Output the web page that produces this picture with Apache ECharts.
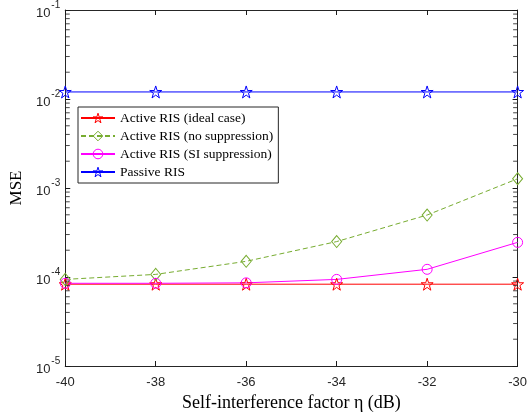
<!DOCTYPE html>
<html>
<head>
<meta charset="utf-8">
<script src="https://cdn.jsdelivr.net/npm/echarts@6/dist/echarts.min.js"></script>
<style>
html,body{margin:0;padding:0;background:#fff;}
#chart{width:530px;height:418px;}
</style>
</head>
<body>
<div id="chart"></div>
<script>
// ---- data ----
const etaDb = [-40, -38, -36, -34, -32, -30];
const idealCase = [8.3e-5, 8.3e-5, 8.3e-5, 8.3e-5, 8.3e-5, 8.3e-5];
const noSuppression = [9.4e-5, 1.07e-4, 1.5e-4, 2.5e-4, 4.97e-4, 1.27e-3];
const siSuppression = [8.5e-5, 8.5e-5, 8.6e-5, 9.4e-5, 1.22e-4, 2.45e-4];
const passiveRis = [0.012, 0.012, 0.012, 0.012, 0.012, 0.012];
const seriesNames = ['Active RIS (ideal case)', 'Active RIS (no suppression)', 'Active RIS (SI suppression)', 'Passive RIS'];
const seriesColors = ['#FF0000', '#77AC30', '#FF00FF', '#0000FF'];
const xTicks = [-40, -38, -36, -34, -32, -30];
const decadeExponents = [-5, -4, -3, -2];
const minorMultiples = [2, 3, 4, 5, 6, 7, 8, 9];

const minorTickValues = [];
decadeExponents.forEach(e => minorMultiples.forEach(m => minorTickValues.push(m * Math.pow(10, e))));

const STAR = 'path://M50,0 L61.2,34.5 L97.6,34.5 L68.2,55.9 L79.4,90.5 L50,69.1 L20.6,90.5 L31.8,55.9 L2.4,34.5 L38.8,34.5 Z';
const axisColor = '#262626';
const tickFont = {fontFamily: 'Liberation Sans', fontSize: 13, color: axisColor};

function pairs(ys){ return etaDb.map((x,i)=>[x, ys[i]]); }

const chart = echarts.init(document.getElementById('chart'), null, {renderer: 'canvas'});

function mkLine(name, ys, color, symbol, size, dashed){
  return {
    name: name, type: 'line', data: pairs(ys),
    symbol: symbol, symbolSize: size, showSymbol: true,
    color: color,
    lineStyle: {color: color, width: 1, type: dashed ? [5, 3] : 'solid'},
    itemStyle: {color: 'rgba(255,255,255,0)', borderColor: color, borderWidth: 1},
    emphasis: {disabled: true},
    animation: false, z: 3
  };
}

// minor ticks: short horizontal marks at each minor log value on both y edges
function minorTickSeries(xEdge, offset){
  return {
    type: 'scatter', silent: true, clip: false, z: 5,
    data: minorTickValues.map(v => [xEdge, v]),
    symbol: 'rect', symbolSize: [4, 1], symbolOffset: [offset, 0],
    itemStyle: {color: '#1a1a1a'},
    animation: false
  };
}

const option = {
  animation: false,
  backgroundColor: '#fff',
  grid: {left: 64, right: 9, top: 6, bottom: 52, containLabel: false},
  legend: {
    show: true, orient: 'vertical', left: 78, top: 107,
    data: seriesNames.map((n, i) => ({
      name: n,
      itemStyle: {color: 'rgba(255,255,255,0)', borderColor: seriesColors[i], borderWidth: 1}
    })),
    itemWidth: 34, itemHeight: 12, itemGap: 4,
    padding: [4, 5, 4, 2],
    backgroundColor: '#fff', borderColor: axisColor, borderWidth: 1,
    textStyle: {fontFamily: 'Liberation Serif', fontSize: 13.5, color: '#000'},
    selectedMode: false
  },
  xAxis: [{
    type: 'value', min: -40, max: -30, interval: 2, position: 'bottom',
    name: 'Self-interference factor \u03b7 (dB)', nameLocation: 'middle', nameGap: 27,
    nameTextStyle: {fontFamily: 'Liberation Serif', fontSize: 18, color: '#000'},
    axisLine: {show: true, onZero: false, lineStyle: {color: axisColor, width: 1}},
    axisTick: {show: true, inside: true, length: 5, lineStyle: {color: '#1a1a1a', width: 1}},
    axisLabel: Object.assign({margin: 10, formatter: v => String(v)}, tickFont),
    splitLine: {show: false}
  }, {
    type: 'value', min: -40, max: -30, interval: 2, position: 'top',
    axisLine: {show: true, onZero: false, lineStyle: {color: axisColor, width: 1}},
    axisTick: {show: true, inside: true, length: 5, lineStyle: {color: '#1a1a1a', width: 1}},
    axisLabel: {show: false}, splitLine: {show: false}
  }],
  yAxis: [{
    type: 'log', logBase: 10, min: 1e-5, max: 1e-1, position: 'left',
    name: 'MSE', nameLocation: 'middle', nameGap: 38,
    nameTextStyle: {fontFamily: 'Liberation Serif', fontSize: 17, color: '#000'},
    axisLine: {show: true, onZero: false, lineStyle: {color: axisColor, width: 1}},
    axisTick: {show: true, inside: true, length: 5, lineStyle: {color: '#1a1a1a', width: 1}},
    axisLabel: {
      margin: 5,
      formatter: v => '{b|10}{s|' + Math.round(Math.log10(v)) + '}',
      rich: {
        b: {fontFamily: 'Liberation Sans', fontSize: 13, color: axisColor, lineHeight: 20, verticalAlign: 'bottom'},
        s: {fontFamily: 'Liberation Sans', fontSize: 10, color: axisColor, lineHeight: 20, verticalAlign: 'top', padding: [0, 0, 0, 1]}
      }
    },
    splitLine: {show: false}
  }, {
    type: 'log', logBase: 10, min: 1e-5, max: 1e-1, position: 'right',
    axisLine: {show: true, onZero: false, lineStyle: {color: axisColor, width: 1}},
    axisTick: {show: true, inside: true, length: 5, lineStyle: {color: '#1a1a1a', width: 1}},
    axisLabel: {show: false}, splitLine: {show: false}
  }],
  series: [
    mkLine(seriesNames[0], idealCase, seriesColors[0], STAR, 12, false),
    mkLine(seriesNames[1], noSuppression, seriesColors[1], 'diamond', [10, 12], true),
    mkLine(seriesNames[2], siSuppression, seriesColors[2], 'circle', 10, false),
    mkLine(seriesNames[3], passiveRis, seriesColors[3], STAR, 12, false),
    minorTickSeries(-40, 2.5),
    minorTickSeries(-30, -2.5)
  ]
};
chart.setOption(option);
</script>
</body>
</html>
